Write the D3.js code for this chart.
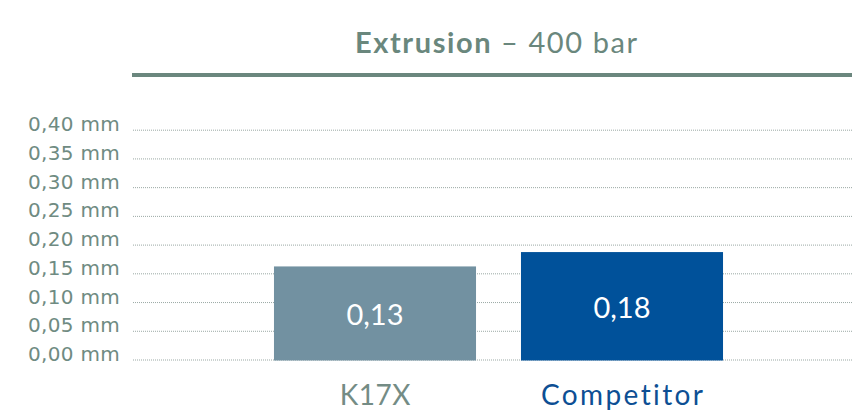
<!DOCTYPE html>
<html><head><meta charset="utf-8">
<script src="https://cdn.jsdelivr.net/npm/d3@7"></script>
<style>html,body{margin:0;padding:0;background:#fff;}svg{display:block;font-family:Lato,"Open Sans",sans-serif;}</style>
</head><body>
<svg id="c" width="852" height="414"></svg>
<script>
const categories = ["K17X", "Competitor"];
const values = [0.162, 0.187];
const valueLabels = ["0,13", "0,18"];
const tickValues = [0, 0.05, 0.10, 0.15, 0.20, 0.25, 0.30, 0.35, 0.40];
const tickLabels = ["0,00 mm","0,05 mm","0,10 mm","0,15 mm","0,20 mm","0,25 mm","0,30 mm","0,35 mm","0,40 mm"];
const titleBold = "Extrusion";
const titleRest = " – 400 bar";
const barColors = ["#7291a1", "#00519a"];
const catColors = ["#748c85", "#0d4f94"];

const svg = d3.select("#c");
const y = d3.scaleLinear().domain([0, 0.4]).range([359.5, 129.7]);
const x = d3.scaleBand().domain(categories).range([251.5, 745.5]).paddingInner(0.182).paddingOuter(0.091);

// title
const t = svg.append("text").attr("x", 496).attr("y", 53).attr("text-anchor", "middle")
  .attr("fill", "#6a877d").style("font-size", "29px")
  .attr("textLength", 282).attr("lengthAdjust", "spacing");
t.append("tspan").attr("font-weight", "bold").text(titleBold);
t.append("tspan").text(titleRest);
svg.append("rect").attr("x", 132).attr("y", 73).attr("width", 720).attr("height", 4).attr("fill", "#6b877e");

// y axis (gridlines + labels)
const yAxis = d3.axisLeft(y).tickValues(tickValues).tickFormat((d, i) => tickLabels[i])
  .tickSize(-(852 - 133)).tickPadding(13);
const gy = svg.append("g").attr("transform", "translate(133,0)").call(yAxis);
gy.select(".domain").remove();
gy.selectAll(".tick line").attr("stroke", "#9aa8a4").attr("stroke-dasharray", "1,1").attr("stroke-width", 1);
gy.selectAll(".tick text").attr("fill", "#6f8b82").attr("dy", "1")
  .style("font-size", "20px").style("letter-spacing", "0.3px").style("font-family", "'DejaVu Sans', sans-serif");

// bars
svg.selectAll("rect.bar").data(values).enter().append("rect").attr("class", "bar")
  .attr("x", (d, i) => x(categories[i])).attr("width", x.bandwidth())
  .attr("y", d => y(d)).attr("height", d => y(0) - y(d) + 1)
  .attr("fill", (d, i) => barColors[i]);

svg.selectAll("text.vl").data(values).enter().append("text").attr("class", "vl")
  .attr("x", (d, i) => x(categories[i]) + x.bandwidth() / 2)
  .attr("y", d => (y(d) + y(0)) / 2 + 12)
  .attr("text-anchor", "middle").attr("fill", "#fff").style("font-size", "29px")
  .text((d, i) => valueLabels[i]);

// category labels
const xAxis = d3.axisBottom(x).tickSize(0).tickPadding(0);
const gx = svg.append("g").attr("transform", "translate(0,360)").call(xAxis);
gx.select(".domain").remove();
gx.selectAll(".tick text").attr("dy", "0").attr("y", 45)
  .attr("fill", (d, i) => catColors[i]).style("font-size", "28px").style("font-family", "Lato, sans-serif")
  .style("letter-spacing", (d, i) => i === 0 ? "0.5px" : "2.4px")
  .attr("dx", (d, i) => i === 0 ? 0.25 : 1.2);
</script>
</body></html>
